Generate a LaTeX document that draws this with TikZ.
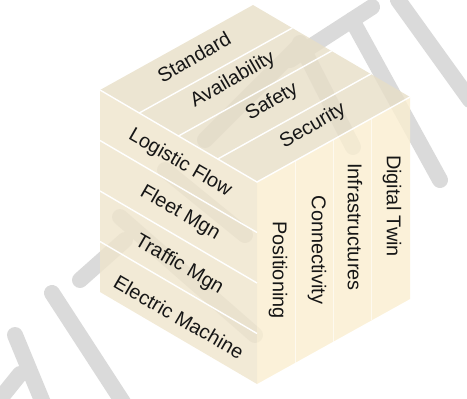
\documentclass[tikz,border=0pt]{standalone}
\usepackage{fontspec}
\setmainfont{Liberation Sans}
\usetikzlibrary{calc}
\definecolor{wmark}{HTML}{DADADA}
\definecolor{topface}{RGB}{231,222,199}
\definecolor{leftface}{RGB}{239,229,204}
\definecolor{rightface}{RGB}{250,238,208}
\definecolor{ink}{HTML}{161616}
\begin{document}
\begin{tikzpicture}[x=1bp,y=-1bp,
  wm/.style={wmark, line width=16bp, line cap=round},
  face/.style={fill opacity=0.8},
  sep/.style={white, line width=1.4bp},
  faint/.style={white, opacity=0.6, line width=1bp},
  lbl/.style={ink, font=\fontsize{20}{24}\selectfont, inner sep=0pt}]
\useasboundingbox (0,0) rectangle (467,398);

% background watermark strokes
\draw[wm] (15,335) -- (46,410);
\draw[wm] (52,293) -- (128,410);
\draw[wm] (80,280) -- (125,240);
\draw[wm] (-5,405) -- (20,374);
\draw[wm] (120,217) -- (255,335);
\draw[wm] (165,170) -- (245,235);
\draw[wm] (205,140) -- (300,45);
\draw[wm] (300,43) -- (353,147);
\draw[wm] (290,60) -- (372,7);
\draw[wm] (352,20) -- (440,180);
\draw[wm] (398,0) -- (470,100);

% cube corners
\coordinate (TL) at (100,90);
\coordinate (TB) at (253,5);
\coordinate (TR) at (410,97);
\coordinate (TF) at (257,182);
\coordinate (BL) at (100,292);
\coordinate (BF) at (257,384);
\coordinate (BR) at (410,299);

% faces
\fill[face, topface] (TL) -- (TB) -- (TR) -- (TF) -- cycle;
\fill[face, leftface] (TL) -- (TF) -- (BF) -- (BL) -- cycle;
\fill[face, rightface] (TF) -- (TR) -- (BR) -- (BF) -- cycle;

% strip separators
\foreach \t in {0.25,0.5,0.75} {
  \draw[sep] ($(TL)!\t!(TF)$) -- ($(TB)!\t!(TR)$);
  \draw[sep] ($(TL)!\t!(BL)$) -- ($(TF)!\t!(BF)$);
  \draw[faint] ($(TF)!\t!(TR)$) -- ($(BF)!\t!(BR)$);
}
\draw[sep] (TL) -- (TF) -- (TR);

% top face labels
\node[lbl, rotate=30] (standard) at (194,57) {Standard};
\node[lbl, rotate=30] (availability) at (233,80) {Availability};
\node[lbl, rotate=30] (safety) at (272,102) {Safety};
\node[lbl, rotate=30] (security) at (313,126) {Security};

% left face labels
\node[lbl, rotate=-30] (logistic) at (180,163) {Logistic Flow};
\node[lbl, rotate=-30] (fleet) at (180,213) {Fleet Mgn};
\node[lbl, rotate=-30] (traffic) at (179,265) {Traffic Mgn};
\node[lbl, rotate=-30] (electric) at (179,317) {Electric Machine};

% right face labels
\node[lbl, rotate=-90] (positioning) at (278,270) {Positioning};
\node[lbl, rotate=-90] (connectivity) at (317,250) {Connectivity};
\node[lbl, rotate=-90] (infra) at (355,227) {Infrastructures};
\node[lbl, rotate=-90] (twin) at (392,206) {Digital Twin};
\end{tikzpicture}
\end{document}
